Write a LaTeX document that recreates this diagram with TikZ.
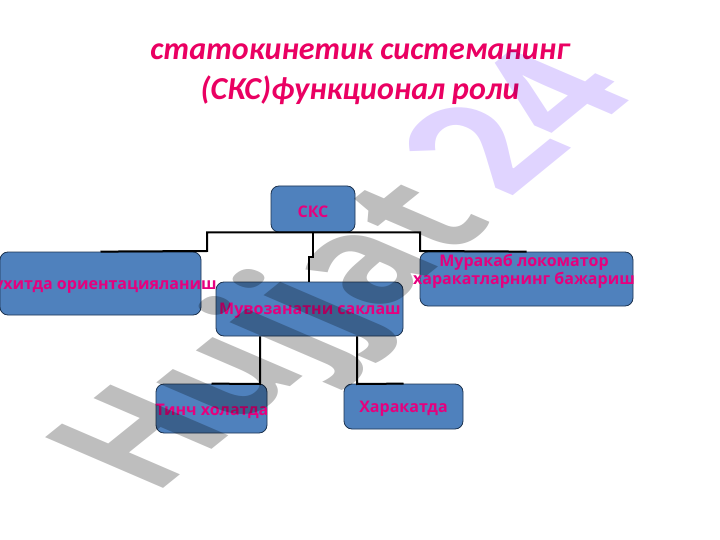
\documentclass[tikz,border=0pt]{standalone}
\usepackage{fontspec}
\setmainfont{Open Sans}
\newfontfamily\titlefont{Carlito}
\definecolor{boxblue}{HTML}{4F81BD}
\definecolor{boxline}{HTML}{1C3350}
\definecolor{labelpink}{HTML}{E6007E}
\definecolor{titlepink}{HTML}{EA0062}
\definecolor{wmgray}{HTML}{BEBEBE}
\definecolor{wmlav}{HTML}{E0D4FF}
\tikzset{
  orgbox/.style={draw=boxline,line width=0.8pt,fill=boxblue,rounded corners=8pt,inner sep=0pt},
  orglabel/.style={text=labelpink,font=\bfseries\fontsize{16}{18}\selectfont,align=center,inner sep=0pt},
  conn/.style={draw=black,line width=2pt,line join=miter},
  headline/.style={text=titlepink,font=\titlefont\bfseries\itshape\fontsize{32}{40}\selectfont,align=center,inner sep=0pt},
  wmark/.style={inner sep=0pt,anchor=base west,font=\bfseries\fontsize{180}{180}\selectfont,transform shape},
}
\begin{document}
\begin{tikzpicture}[x=1pt,y=-1pt]
\useasboundingbox (0,0) rectangle (720,540);
\clip (0,0) rectangle (720,540);
\node[headline] (title) at (360,74.5) {статокинетик системанинг\\(СКС)функционал роли};
\coordinate (kl) at (207,251);
\coordinate (kr) at (420,251);
\coordinate (km1) at (313,257);
\coordinate (km2) at (309,257);
\coordinate (ka) at (260,384);
\coordinate (kb) at (357,384);
\node[orgbox,minimum width=84pt,minimum height=46pt] (sks) at (313,209) {};
\node[orgbox,minimum width=201pt,minimum height=63pt] (left) at (100.5,283.5) {};
\node[orgbox,minimum width=187pt,minimum height=54pt] (mid) at (309.5,309) {};
\node[orgbox,minimum width=213pt,minimum height=54pt] (right) at (526.5,279) {};
\node[orgbox,minimum width=111pt,minimum height=49pt] (still) at (211.5,408.5) {};
\node[orgbox,minimum width=119pt,minimum height=45pt] (move) at (403.5,406.5) {};
\draw[conn] (sks.south) -| (kl) -- (left.north);
\draw[conn] (sks.south) -| (kr) -- (right.north);
\draw[conn] (sks.south) -- (km1) -- (km2) -- (km2 |- mid.north);
\draw[conn] (ka |- mid.south) -- (ka) -- (still.north);
\draw[conn] (kb |- mid.south) -- (kb) -- (move.north);
\node[orglabel] (t1) at (313,212) {СКС};
\node[orglabel] (t2) at (98,286) {Мухитда ориентацияланиш};
\node[orglabel] (t3) at (310,311) {Мувозанатни саклаш};
\node[orglabel] (t4) at (524,271) {Муракаб локоматор\\харакатларнинг бажариш};
\node[orglabel] (t5) at (212,411) {Тинч холатда};
\node[orglabel] (t6) at (403.5,408.5) {Харакатда};
\begin{scope}[blend mode=multiply]
\node[wmark,text=wmgray,cm={.62,.50,-.918,.395,(0,0)}] (wm1) at (153,497) {Hujjat};
\node[wmark,text=wmlav,cm={.65,.53,-.918,.395,(0,0)}] (wm2) at (508,200) {24};
\end{scope}
\end{tikzpicture}
\end{document}
